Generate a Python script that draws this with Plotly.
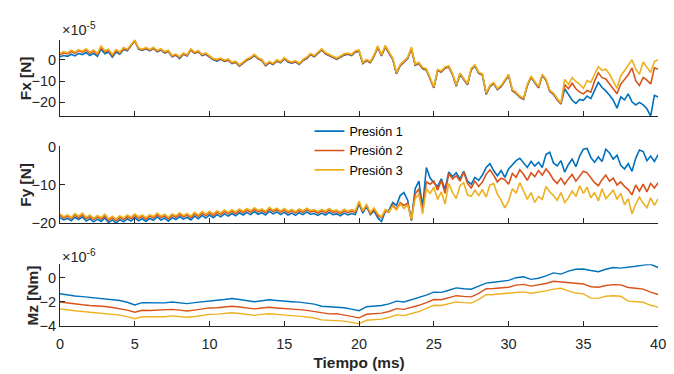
import plotly.graph_objects as go

# ---------------- data ----------------
DT_FAST = 0.25   # ms, sampling for Fx/Fy lists
DT_SLOW = 0.5    # ms, sampling for Mz lists
series_names = ["Presión 1", "Presión 2", "Presión 3"]
series_colors = ["#0072BD", "#D95319", "#EDB120"]
x_ticks = [0, 5, 10, 15, 20, 25, 30, 35, 40]

# Fx  (x 1e-5 N)
fx_p1 = [1.4, 2.0, 1.6, 2.6, 1.8, 3.0, 2.4, 3.4, 2.0, 3.0,
         1.6, 5.0, 2.8, 3.6, 1.2, 3.6, 2.6, 4.8, 4.2, 6.6,
         9.0, 5.0, 4.4, 5.2, 4.2, 5.3, 3.8, 4.6, 3.2, 3.9,
         1.4, 2.2, 0.6, 2.6, 1.8, 4.6, 3.0, 3.8, 2.0, 2.6,
         1.2, 0.0, -0.6, 0.2, -0.8, -0.2, -1.8, -1.2, -3.0, -1.6,
         -0.2, 0.6, 2.0, 0.4, -0.4, -2.8, -1.4, -2.2, -0.6, -1.4,
         0.4, -1.0, -1.6, -1.0, -2.2, -0.4, 0.6, 2.4, 1.4, 3.0,
         4.6, 2.8, 1.8, 1.0, 0.2, 1.2, 2.2, 2.6, 2.0, 3.6,
         4.0, -1.8, -0.4, -1.4, 1.6, 5.8, 1.8, 6.0, 3.4, 0.2,
         -6.6, -2.8, -1.2, 0.6, 5.2, -2.6, -1.8, -4.2, -4.8, -8.6,
         -13.2, -5.2, -5.8, -4.0, -3.4, -7.0, -12.4, -6.8, -9.6, -11.8,
         -4.6, -3.0, -6.4, -7.2, -16.2, -12.6, -11.2, -14.0, -12.6, -9.8,
         -7.4, -14.6, -15.8, -17.6, -18.6, -12.2, -8.2, -10.8, -13.2, -7.4,
         -9.6, -14.8, -16.2, -18.8, -20.8,
         -13.6, -16.0, -19.0, -20.5, -18.6, -19.0, -17.0, -18.2, -14.0, -10.6,
         -13.0, -14.6, -16.7, -19.0, -22.7, -17.4, -18.8, -16.0, -19.7, -21.2,
         -20.0, -21.2, -23.0, -26.5, -16.7, -17.5]
fx_p2 = [2.4, 3.2, 2.8, 3.9, 3.0, 4.3, 3.5, 4.6, 3.0, 4.1,
         2.5, 6.0, 3.7, 4.5, 2.0, 4.3, 3.1, 5.3, 4.5, 6.8,
         9.0, 5.2, 4.6, 5.4, 4.4, 5.5, 4.0, 4.8, 3.4, 4.1,
         1.6, 2.4, 1.0, 2.8, 2.0, 4.8, 3.2, 4.0, 2.2, 2.8,
         1.4, 0.2, -0.2, 0.4, -0.6, 0.0, -1.6, -1.0, -2.8, -1.4,
         0.0, 0.8, 2.2, 0.6, -0.2, -2.6, -1.2, -2.0, -0.4, -1.2,
         0.6, -0.8, -1.4, -0.8, -2.0, -0.2, 0.8, 2.6, 1.6, 3.2,
         4.8, 3.0, 2.0, 1.2, 0.4, 1.4, 2.4, 2.8, 2.2, 3.8,
         4.2, -1.6, -0.2, -1.2, 1.8, 6.0, 2.0, 6.2, 3.6, 0.4,
         -6.4, -2.6, -1.0, 0.8, 5.4, -2.4, -1.6, -4.0, -4.6, -8.4,
         -13.0, -5.0, -5.6, -3.8, -3.2, -6.8, -12.2, -6.6, -9.4, -11.6,
         -4.4, -2.8, -6.2, -7.0, -16.0, -12.4, -11.0, -13.8, -12.4, -9.6,
         -7.2, -14.4, -15.6, -17.4, -18.4, -12.0, -8.0, -10.6, -13.0, -7.2,
         -9.4, -14.6, -16.0, -18.6, -20.6,
         -11.6, -13.6, -11.0, -13.6, -15.2, -16.0, -14.4, -15.2, -10.0, -6.1,
         -8.4, -9.0, -11.4, -13.6, -15.9, -11.4, -9.0, -7.0, -3.8, -9.8,
         -12.1, -8.3, -9.6, -11.4, -3.8, -4.5]
fx_p3 = [3.0, 3.8, 3.2, 4.5, 3.6, 4.8, 4.0, 5.2, 3.5, 4.6,
         3.0, 6.5, 4.2, 5.0, 2.5, 4.8, 3.6, 5.8, 5.0, 7.2,
         9.3, 5.6, 5.0, 5.8, 4.8, 5.9, 4.4, 5.2, 3.8, 4.5,
         2.0, 2.8, 1.4, 3.2, 2.4, 5.2, 3.6, 4.4, 2.6, 3.2,
         1.8, 0.6, 0.2, 0.8, -0.2, 0.4, -1.2, -0.6, -2.4, -1.0,
         0.4, 1.2, 2.6, 1.0, 0.2, -2.2, -0.8, -1.6, 0.0, -0.8,
         1.0, -0.4, -1.0, -0.4, -1.6, 0.2, 1.2, 3.0, 2.0, 3.6,
         5.2, 3.4, 2.4, 1.6, 0.8, 1.8, 2.8, 3.2, 2.6, 4.2,
         4.6, -1.2, 0.2, -0.8, 2.2, 6.6, 2.4, 6.8, 4.0, 0.8,
         -6.0, -2.2, -0.6, 1.2, 6.0, -2.0, -1.2, -3.6, -4.2, -8.0,
         -12.6, -4.6, -5.2, -3.4, -2.8, -6.4, -11.8, -6.2, -9.0, -11.2,
         -4.0, -2.4, -5.8, -6.6, -15.6, -12.0, -10.6, -13.4, -12.0, -9.2,
         -6.8, -14.0, -15.2, -17.0, -18.0, -11.6, -7.6, -10.2, -12.6, -6.8,
         -9.0, -14.2, -15.6, -18.2, -20.2, -9.2, -11.6, -8.4, -10.2, -11.4,
         -13.4, -9.8, -10.6, -6.8, -3.2, -5.0, -4.4, -6.8, -10.2, -13.4,
         -7.6, -5.0, -3.0, 0.0, -4.4, -6.8, -1.0, -3.4, -6.0, -0.8,
         0.0]

# Fy  (N)
fy_p1 = [-18.6, -19.2, -18.8, -19.4, -18.5, -19.1, -18.4, -19.5, -18.9, -19.7,
         -19.0, -19.6, -18.7, -19.9, -19.2, -20.0, -19.1, -19.7, -18.9, -19.5,
         -18.6, -19.4, -18.9, -19.6, -18.8, -19.3, -18.4, -19.2, -18.7, -19.5,
         -18.6, -19.1, -18.3, -19.0, -18.5, -19.2, -18.2, -18.9, -18.0, -18.7,
         -17.9, -18.6, -17.8, -18.4, -17.6, -18.2, -17.5, -18.1, -17.3, -17.9,
         -17.2, -17.8, -17.0, -17.7, -17.3, -17.9, -16.9, -17.6, -17.1, -17.8,
         -17.2, -17.9, -17.4, -18.0, -17.3, -17.8, -17.1, -17.7, -17.5, -18.0,
         -17.4, -17.9, -17.2, -17.8, -17.6, -18.1, -17.4, -17.9, -17.5, -17.8,
         -15.0,
         -17.4, -15.6, -17.8, -16.8, -18.6, -19.6, -17.0, -16.6, -14.6, -15.4,
         -12.8, -12.0, -14.0, -19.4, -11.0, -9.0, -15.8, -5.4, -8.2, -9.4,
         -10.4, -8.4, -11.2, -6.6, -7.8, -6.8, -8.4, -6.4, -9.0, -9.8,
         -8.0, -8.8, -7.4, -5.4, -4.4, -6.2, -7.6, -6.2, -8.0, -5.8,
         -4.8, -3.6, -3.0, -4.2, -5.4, -3.8, -5.0, -4.0, -5.4, -2.0,
         -1.4, -4.2, -5.0, -3.6, -6.6, -4.6, -3.2, -5.2, -2.4, -0.6,
         -0.4, -2.8, -4.0, -2.6, -3.8, -0.6, -1.6, -3.2, -2.2, -4.8,
         -5.8, -4.4, -6.4, -3.0, -0.8, -1.2, -3.6, -2.4, -3.8, -2.0]
fy_p2 = [-18.0, -18.7, -18.2, -18.9, -17.9, -18.6, -17.8, -18.9, -18.3, -19.1,
         -18.4, -19.0, -18.1, -19.3, -18.6, -19.4, -18.5, -19.1, -18.3, -18.9,
         -18.0, -18.8, -18.3, -19.0, -18.2, -18.7, -17.8, -18.6, -18.1, -18.9,
         -18.0, -18.5, -17.7, -18.4, -17.9, -18.6, -17.6, -18.3, -17.4, -18.1,
         -17.3, -18.0, -17.2, -17.8, -17.0, -17.6, -16.9, -17.5, -16.7, -17.3,
         -16.6, -17.2, -16.4, -17.1, -16.7, -17.3, -16.3, -17.0, -16.5, -17.2,
         -16.6, -17.3, -16.8, -17.4, -16.7, -17.2, -16.5, -17.1, -16.9, -17.4,
         -16.8, -17.3, -16.6, -17.2, -17.0, -17.5, -16.8, -17.3, -16.9, -17.2,
         -14.6,
         -17.0, -15.4, -17.6, -16.4, -18.0, -18.6, -16.8, -17.2, -15.2, -16.4,
         -14.6, -15.4, -14.8, -19.2, -12.4, -11.0, -16.8, -9.2, -9.8, -9.0,
         -11.4, -8.8, -12.2, -7.0, -8.4, -7.6, -9.0, -6.6, -9.6, -10.8,
         -9.0, -10.4, -9.2, -7.2, -6.0, -7.4, -9.2, -8.2, -8.6, -9.8,
         -7.0, -8.0, -6.0, -7.2, -8.8, -6.8, -7.8, -6.2, -7.4, -5.8,
         -7.0, -8.6, -9.6, -8.2, -9.8, -8.4, -7.2, -9.0, -7.6, -6.4,
         -6.8, -8.0, -9.4, -10.2, -8.6, -7.4, -9.0, -8.2, -10.0, -9.2,
         -10.4, -11.2, -12.6, -10.0, -11.6, -9.8, -11.8, -9.6, -10.8, -9.4]
fy_p3 = [-17.6, -18.4, -17.8, -18.6, -17.5, -18.2, -17.4, -18.5, -17.9, -18.8,
         -18.0, -18.6, -17.7, -18.9, -18.2, -19.0, -18.1, -18.7, -17.9, -18.5,
         -17.6, -18.4, -17.9, -18.6, -17.8, -18.3, -17.4, -18.2, -17.7, -18.5,
         -17.6, -18.1, -17.3, -18.0, -17.5, -18.2, -17.2, -17.9, -17.0, -17.7,
         -16.9, -17.6, -16.8, -17.4, -16.6, -17.2, -16.5, -17.1, -16.3, -16.9,
         -16.2, -16.8, -16.0, -16.7, -16.3, -16.9, -15.9, -16.6, -16.1, -16.8,
         -16.2, -16.9, -16.4, -17.0, -16.3, -16.8, -16.1, -16.7, -16.5, -17.0,
         -16.4, -16.9, -16.2, -16.8, -16.6, -17.1, -16.4, -16.9, -16.5, -16.8,
         -14.2,
         -16.8, -15.0, -17.2, -16.0, -17.6, -18.4, -16.4, -17.0, -15.6, -16.6,
         -15.0, -16.2, -15.2, -19.0, -13.6, -12.4, -17.6, -11.0, -12.2, -10.6,
         -13.8, -11.8, -15.0, -9.6, -12.0, -13.6, -10.2, -9.4, -12.6, -13.0,
         -11.4, -12.8, -11.2, -13.2, -10.0, -9.6, -12.4, -14.0, -16.0, -14.2,
         -11.0, -12.2, -9.4, -11.6, -13.8, -12.0, -14.6, -13.0, -13.8, -10.4,
         -11.8, -12.8, -14.0, -12.0, -14.6, -13.4, -11.6, -13.0, -10.2, -12.2,
         -10.6, -13.4, -12.0, -14.2, -11.0, -13.6, -12.6, -11.4, -13.8, -12.2,
         -15.2, -13.6, -17.6, -15.0, -13.2, -14.8, -16.0, -13.4, -15.4, -13.6]

# Mz  (x 1e-6 Nm)
mz_p1 = [-1.34, -1.45, -1.52, -1.58, -1.64, -1.68, -1.72, -1.80, -1.90, -2.05,
         -2.27, -2.08, -2.10, -2.06, -2.10, -2.02, -2.08, -2.16, -2.08, -2.00,
         -1.90, -1.88, -1.82, -1.74, -1.82, -1.90, -2.00, -1.92, -1.84, -1.90,
         -1.92, -2.00, -2.04, -2.10, -2.20, -2.38, -2.42, -2.40, -2.50, -2.62,
         -2.75, -2.42, -2.40, -2.32, -2.18, -1.95, -2.02, -1.85, -1.68, -1.45,
         -1.20, -1.22, -1.05, -0.85, -0.92, -0.96, -0.70, -0.45, -0.38, -0.30,
         -0.22, 0.00, 0.08, -0.14, -0.05, 0.15, 0.40, 0.30, 0.55, 0.70,
         0.72, 0.60, 0.50, 0.70, 0.85, 0.80, 0.85, 0.95, 1.05, 1.12,
         0.85]
mz_p2 = [-2.03, -2.12, -2.20, -2.26, -2.32, -2.35, -2.40, -2.48, -2.58, -2.70,
         -2.88, -2.72, -2.74, -2.70, -2.72, -2.64, -2.70, -2.78, -2.70, -2.60,
         -2.52, -2.50, -2.45, -2.38, -2.44, -2.52, -2.60, -2.52, -2.46, -2.52,
         -2.55, -2.62, -2.66, -2.72, -2.82, -2.98, -3.02, -3.00, -3.10, -3.22,
         -3.35, -3.05, -3.02, -2.95, -2.82, -2.58, -2.64, -2.48, -2.30, -2.08,
         -1.82, -1.84, -1.68, -1.50, -1.56, -1.60, -1.30, -0.92, -0.90, -0.86,
         -0.80, -0.62, -0.56, -0.70, -0.62, -0.48, -0.30, -0.35, -0.45, -0.49,
         -0.52, -0.75, -0.80, -0.65, -0.58, -0.60, -0.82, -0.88, -0.95, -1.20,
         -1.40]
mz_p3 = [-2.60, -2.70, -2.76, -2.82, -2.88, -2.90, -2.96, -3.04, -3.12, -3.25,
         -3.42, -3.26, -3.28, -3.24, -3.26, -3.18, -3.24, -3.30, -3.24, -3.14,
         -3.06, -3.04, -2.98, -2.92, -2.98, -3.06, -3.14, -3.06, -3.00, -3.06,
         -3.08, -3.16, -3.20, -3.26, -3.36, -3.52, -3.56, -3.55, -3.62, -3.72,
         -3.85, -3.55, -3.52, -3.45, -3.32, -3.10, -3.16, -3.00, -2.82, -2.55,
         -2.30, -2.32, -2.18, -2.02, -2.08, -2.12, -1.80, -1.42, -1.40, -1.36,
         -1.32, -1.26, -1.18, -1.30, -1.22, -1.10, -0.95, -0.88, -1.10, -1.28,
         -1.35, -1.70, -1.72, -1.55, -1.50, -1.55, -1.95, -2.00, -2.05, -2.30,
         -2.45]

for s in (fx_p1, fx_p2, fx_p3, fy_p1, fy_p2, fy_p3):
    assert len(s) == 161, len(s)
for s in (mz_p1, mz_p2, mz_p3):
    assert len(s) == 81, len(s)

t_fast = [i * DT_FAST for i in range(161)]
t_slow = [i * DT_SLOW for i in range(81)]

# ---------------- figure ----------------
W, H = 674, 374
FONT = "Arial, Liberation Sans, Helvetica, sans-serif"
AX = "#262626"

def px_x(p):
    return p / W

def px_y(p):
    return (H - p) / H

fig = go.Figure()
panels = [
    ("", (fx_p1, fx_p2, fx_p3), t_fast, 1.6),
    ("2", (fy_p1, fy_p2, fy_p3), t_fast, 1.6),
    ("3", (mz_p1, mz_p2, mz_p3), t_slow, 1.4),
]
for k, (ax, data, tt, lw) in enumerate(panels):
    for j in range(3):
        fig.add_trace(go.Scatter(
            x=tt, y=data[j], mode="lines", name=series_names[j],
            line=dict(color=series_colors[j], width=lw),
            xaxis="x" + ax, yaxis="y" + ax,
            legendgroup=series_names[j], showlegend=(k == 0)))

xdom = [px_x(57), px_x(666)]
common_x = dict(domain=xdom, range=[0, 40], tickvals=x_ticks, showgrid=False, zeroline=False,
                showline=True, linecolor=AX, linewidth=1, ticks="inside", ticklen=5,
                tickcolor=AX, tickfont=dict(family=FONT, size=14.5, color=AX),
                ticklabeloverflow="allow")
common_y = dict(showgrid=False, zeroline=False, showline=True, linecolor=AX, linewidth=1,
                ticks="inside", ticklen=5, tickcolor=AX,
                tickfont=dict(family=FONT, size=14.5, color=AX),
                ticklabeloverflow="allow")

fig.update_layout(
    width=W, height=H, autosize=False,
    margin=dict(l=0, r=0, t=0, b=0),
    paper_bgcolor="white", plot_bgcolor="white",
    showlegend=True,
    legend=dict(x=px_x(311), y=px_y(114), xanchor="left", yanchor="top",
                bgcolor="rgba(0,0,0,0)", borderwidth=0,
                font=dict(family=FONT, size=12.6, color="#000000"),
                tracegroupgap=0, itemwidth=30),
    xaxis=dict(common_x, anchor="y", showticklabels=False),
    xaxis2=dict(common_x, anchor="y2", showticklabels=False),
    xaxis3=dict(common_x, anchor="y3", ticklabelstandoff=5,
                title=dict(text="<b>Tiempo (ms)</b>", font=dict(family=FONT, size=15.4, color=AX),
                           standoff=6)),
    yaxis=dict(common_y, anchor="x", domain=[px_y(114), px_y(34)], range=[-26.6, 9.46],
               tickvals=[-20, -10, 0]),
    yaxis2=dict(common_y, anchor="x2", domain=[px_y(225), px_y(145)], range=[-20, 0.2],
                tickvals=[-20, -10, 0]),
    yaxis3=dict(common_y, anchor="x3", domain=[px_y(332), px_y(268)], range=[-4, 1.12],
                tickvals=[-4, -2, 0]),
)

ylabels = [("<b>Fx [N]</b>", 21.5, 74), ("<b>Fy [N]</b>", 21.5, 185), ("<b>Mz [Nm]</b>", 29, 300)]
for txt, xc, yc in ylabels:
    fig.add_annotation(text=txt, x=px_x(xc), y=px_y(yc), xref="paper", yref="paper",
                       xanchor="center", yanchor="middle", textangle=-90, showarrow=False,
                       font=dict(family=FONT, size=15.4, color=AX))

for txt, yc in (("×10<sup>-5</sup>", 23), ("×10<sup>-6</sup>", 259)):
    fig.add_annotation(text=txt, x=px_x(57), y=px_y(yc), xref="paper", yref="paper",
                       xanchor="left", yanchor="middle", showarrow=False,
                       font=dict(family=FONT, size=14.5, color=AX))

fig.write_html("out.html")
